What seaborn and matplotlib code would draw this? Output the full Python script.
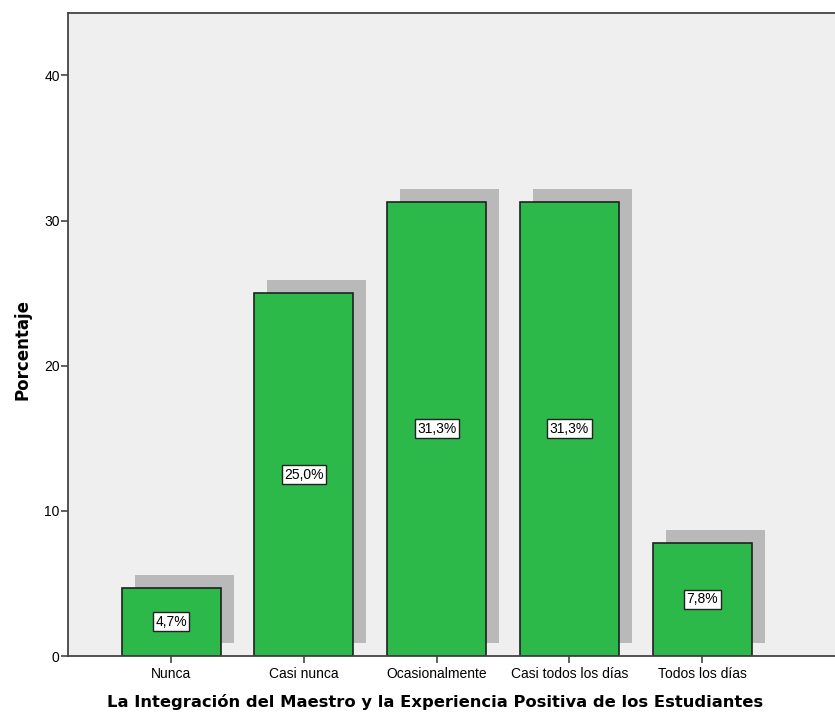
import matplotlib
matplotlib.use("Agg")
import matplotlib.pyplot as plt
import matplotlib.transforms as mtransforms
import seaborn as sns
import pandas as pd

categories = ["Nunca", "Casi nunca", "Ocasionalmente", "Casi todos los días", "Todos los días"]
values = [4.7, 25.0, 31.3, 31.3, 7.8]
labels = ["4,7%", "25,0%", "31,3%", "31,3%", "7,8%"]
yticks = [0, 10, 20, 30, 40]

df = pd.DataFrame({"cat": categories, "val": values})

sns.set_style("white")
plt.rcParams['font.family'] = ['Liberation Sans', 'DejaVu Sans']
plt.rcParams['text.color'] = 'black'
plt.rcParams['axes.labelcolor'] = 'black'
plt.rcParams['xtick.color'] = 'black'
plt.rcParams['ytick.color'] = 'black'

fig = plt.figure(figsize=(8.35, 7.13), dpi=100)
ax = fig.add_axes([68/835, 57/713, 1 - 68/835, (656-13)/713])
ax.set_facecolor("#efefef")

# shadow bars
sns.barplot(data=df, x="cat", y="val", color="#b9b9b9", saturation=1, width=0.746,
            edgecolor="none", linewidth=0, ax=ax)
shadow_patches = list(ax.patches)
offset = mtransforms.ScaledTranslation(13/100, 13/100, fig.dpi_scale_trans)
for p in shadow_patches:
    p.set_transform(ax.transData + offset)

# main bars
sns.barplot(data=df, x="cat", y="val", color="#2db84a", saturation=1, width=0.746,
            edgecolor="#202020", linewidth=1.2, ax=ax)

for i, (v, lab) in enumerate(zip(values, labels)):
    ax.text(i, v / 2, lab, ha="center", va="center", fontsize=10, color="black",
            bbox=dict(boxstyle="square,pad=0.18", facecolor="white", edgecolor="#222222", linewidth=1.0))

ax.set_xlim(-0.776, 5.0)
ax.set_ylim(0, 44.3)
ax.set_yticks(yticks)
ax.set_yticklabels([str(t) for t in yticks], fontsize=10)
ax.tick_params(axis="x", labelsize=10, length=5, width=1.2, color="#444444", labelcolor="black",
               direction="out", pad=3)
ax.tick_params(axis="y", labelsize=10, length=5, width=1.2, color="#444444", labelcolor="black",
               direction="out", pad=1)
ax.xaxis.set_ticks_position("bottom")
ax.yaxis.set_ticks_position("left")

for s in ["left", "top", "bottom"]:
    ax.spines[s].set_color("#444444")
    ax.spines[s].set_linewidth(1.3)
    ax.spines[s].set_visible(True)
ax.spines["right"].set_visible(False)

ax.set_xlabel("La Integración del Maestro y la Experiencia Positiva de los Estudiantes",
              fontsize=11.8, fontweight="bold", family="DejaVu Sans", color="black")
ax.set_ylabel("Porcentaje", fontsize=12, fontweight="bold", family="DejaVu Sans", color="black")
ax.xaxis.set_label_coords(0.4785, -0.059)
ax.yaxis.set_label_coords(-0.047, 0.476)

fig.savefig("out.png", dpi=100, facecolor="white")
